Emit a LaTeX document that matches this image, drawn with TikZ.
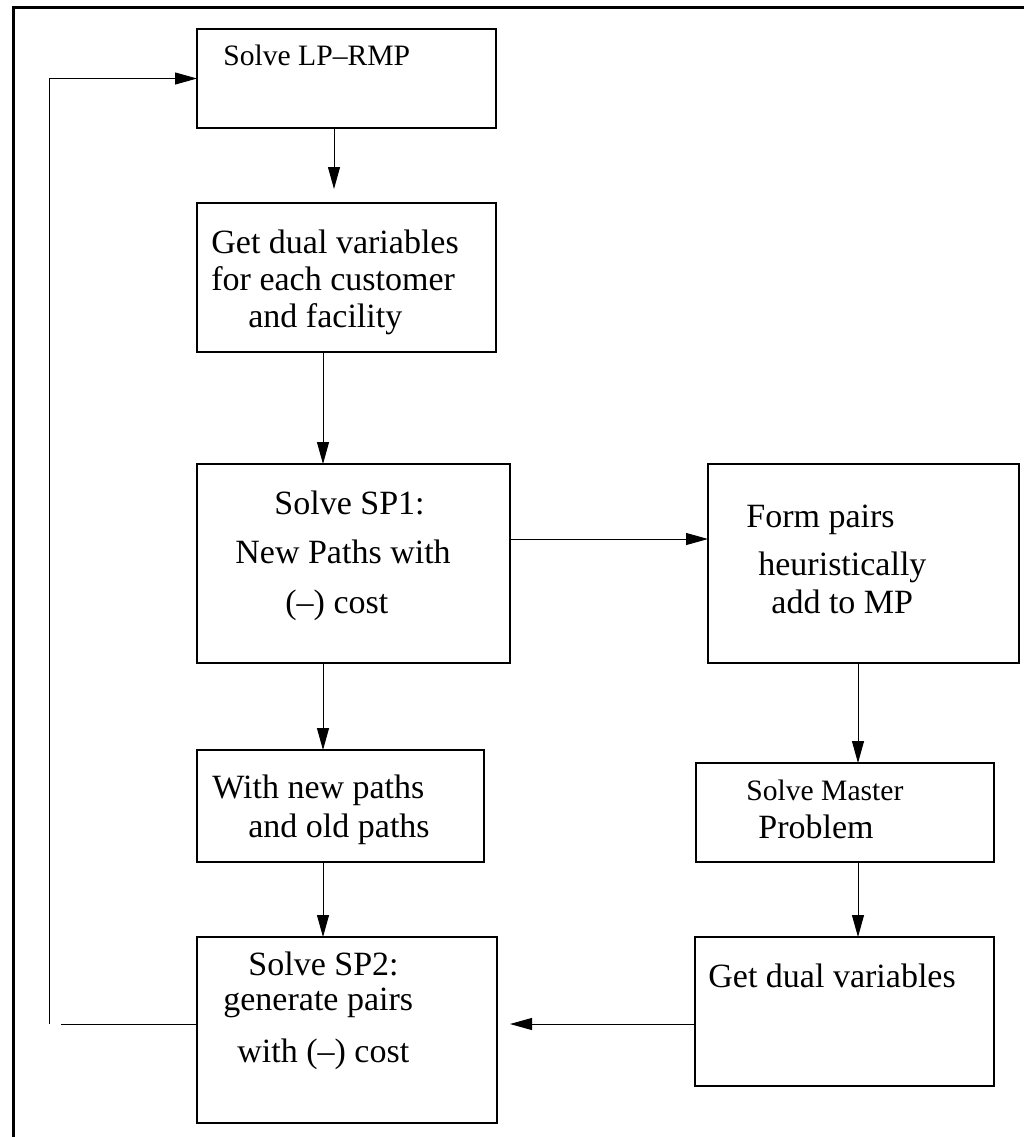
\documentclass[tikz,border=0pt]{standalone}
\usepackage{fontspec}
\setmainfont{Liberation Serif}
\usetikzlibrary{arrows.meta}
\newcommand\bigtxt{\fontsize{17}{20}\selectfont}
\newcommand\smalltxt{\fontsize{14.8}{17}\selectfont}
\begin{document}
\begin{tikzpicture}[x=0.5pt,y=-0.5pt,
  box/.style={draw, line width=0.6pt, inner sep=0pt, outer sep=0pt},
  arr/.style={-{Triangle[length=11pt,width=6pt]}, line width=0.5pt},
  link/.style={line width=0.5pt},
  txt/.style={anchor=base west, inner sep=0pt, font=\bigtxt},
  stxt/.style={anchor=base west, inner sep=0pt, font=\smalltxt}]
\useasboundingbox (0,0) rectangle (1024,1137);
\fill[white] (0,0) rectangle (1024,1137);

% outer frame (top and left edges)
\draw[line width=1.5pt, line join=miter] (13.5,1137) -- (13.5,7) -- (1024,7);

% process boxes
\node[box, minimum width=149.5pt, minimum height=49.5pt] (A) at (346.5,78.5) {};
\node[box, minimum width=149.5pt, minimum height=74.5pt] (B) at (346.5,277.5) {};
\node[box, minimum width=156.5pt, minimum height=99.5pt] (C) at (353.5,563.5) {};
\node[box, minimum width=143.5pt, minimum height=56pt]   (D) at (340.5,806) {};
\node[box, minimum width=150pt,   minimum height=93pt]   (F) at (347,1030) {};
\node[box, minimum width=155.5pt, minimum height=99.5pt] (E) at (863.5,563.5) {};
\node[box, minimum width=149pt,   minimum height=49.5pt] (G) at (845,812.5) {};
\node[box, minimum width=149.5pt, minimum height=74.5pt] (H) at (844.5,1011.5) {};

% box texts
\node[stxt] (tA) at (223,65) {Solve LP–RMP};

\node[txt] (tB1) at (211,253) {Get dual variables};
\node[txt] (tB2) at (211,290) {for each customer};
\node[txt] (tB3) at (248,327) {and facility};

\node[txt] (tC1) at (274,514) {Solve SP1:};
\node[txt] (tC2) at (235,563) {New Paths with};
\node[txt] (tC3) at (285,613) {(–) cost};

\node[txt] (tD1) at (212,798) {With new paths};
\node[txt] (tD2) at (248,837) {and old paths};

\node[txt] (tF1) at (248,975) {Solve SP2:};
\node[txt] (tF2) at (223,1010) {generate pairs};
\node[txt] (tF3) at (237,1062) {with (–) cost};

\node[txt] (tE1) at (746,527) {Form pairs};
\node[txt] (tE2) at (758,575) {heuristically};
\node[txt] (tE3) at (771,613) {add to MP};

\node[stxt] (tG1) at (746,800) {Solve Master};
\node[txt]  (tG2) at (758,838) {Problem};

\node[txt] (tH1) at (708,987) {Get dual variables};

% connectors
\coordinate (tipAB) at (334,189);
\coordinate (colL) at (323,0);
\coordinate (colR) at (858,0);
\coordinate (rowCE) at (0,539);
\coordinate (tipHF) at (510,1024);
\coordinate (fbEnd) at (61,1024);
\coordinate (fbStart) at (49,1024);

\draw[arr] (A.south -| tipAB) -- (tipAB);
\draw[arr] (B.south -| colL) -- (C.north -| colL);
\draw[arr] (C.south -| colL) -- (D.north -| colL);
\draw[arr] (D.south -| colL) -- (F.north -| colL);
\draw[arr] (C.east |- rowCE) -- (E.west |- rowCE);
\draw[arr] (E.south -| colR) -- (G.north -| colR);
\draw[arr] (G.south -| colR) -- (H.north -| colR);
\draw[arr] (H.west |- tipHF) -- (tipHF);

% feedback loop back to the LP-RMP step
\draw[link] (F.west |- fbEnd) -- (fbEnd);
\draw[arr] (fbStart) |- (A.west);
\end{tikzpicture}
\end{document}
